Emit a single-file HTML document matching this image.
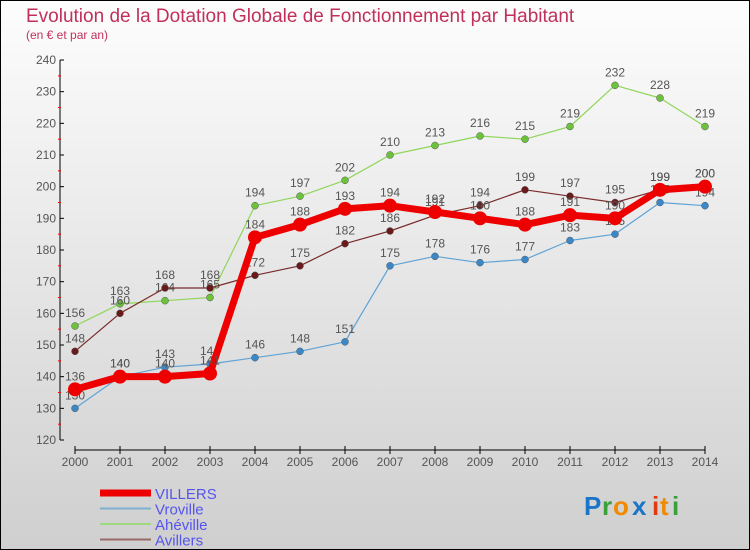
<!DOCTYPE html>
<html><head><meta charset="utf-8"><style>
body{margin:0;width:750px;height:550px;overflow:hidden;font-family:"Liberation Sans",sans-serif}
#wrap{position:absolute;left:0;top:0;width:748px;height:548px;border:1px solid #000;background:linear-gradient(#fdfdfd,#cfcfcf)}
</style></head><body>
<div id="wrap">
<svg id="chart" width="750" height="550" style="position:absolute;left:-1px;top:-1px">
<text x="26" y="22" font-size="19" fill="#c0305a">Evolution de la Dotation Globale de Fonctionnement par Habitant</text>
<text x="26" y="39" font-size="12" fill="#c0305a">(en € et par an)</text>
<g id="axes"></g><g id="series"></g><g id="legend"></g>
<g font-size="26" font-weight="bold" font-family="Liberation Sans,sans-serif">
<text x="584" y="515" fill="#1a74c8">P</text><text x="602" y="515" fill="#3aa03a">r</text><text x="613" y="515" fill="#f08a00">o</text><text x="632" y="515" fill="#1a74c8">x</text><text x="652" y="515" fill="#e03a10">i</text><text x="660" y="515" fill="#f08a00">t</text><text x="672" y="515" fill="#3aa03a">i</text>
</g>
</svg></div>
<script>
const years=[2000,2001,2002,2003,2004,2005,2006,2007,2008,2009,2010,2011,2012,2013,2014];
const villers=[136,140,140,141,184,188,193,194,192,190,188,191,190,199,200];
const vroville=[130,140,143,144,146,148,151,175,178,176,177,183,185,195,194];
const aheville=[156,163,164,165,194,197,202,210,213,216,215,219,232,228,219];
const avillers=[148,160,168,168,172,175,182,186,191,194,199,197,195,199,200];
const yTicks=[120,130,140,150,160,170,180,190,200,210,220,230,240];
const NS="http://www.w3.org/2000/svg";
const xs=i=>75+i*(705-75)/(years.length-1);
const ys=v=>440-(v-120)*(380/120);
function mk(t,a,p){const e=document.createElementNS(NS,t);for(const k in a)e.setAttribute(k,a[k]);p.appendChild(e);return e;}
const ax=document.getElementById('axes');
const yl=mk('line',{x1:60,y1:60,x2:60,y2:440,stroke:'#000'},ax);


yTicks.forEach(v=>{
  const t=mk('line',{x1:60,x2:64,y1:ys(v),y2:ys(v),stroke:'#000'},ax);
  
  
  if(v<240){const m=mk('line',{x1:58,x2:61,y1:ys(v+5),y2:ys(v+5),stroke:'#f00'},ax);
  
  }
  const l=mk('text',{x:56,y:ys(v)+4,'text-anchor':'end','font-size':12,fill:'#555'},ax);l.textContent=v;
  
  
});
const xl=mk('line',{x1:75,y1:450,x2:705,y2:450,stroke:'#000'},ax);


years.forEach((y,i)=>{
  const t=mk('line',{x1:xs(i),x2:xs(i),y1:446,y2:454,stroke:'#000'},ax);
  
  
  const l=mk('text',{x:xs(i),y:466,'text-anchor':'middle','font-size':12,fill:'#555'},ax);l.textContent=y;
  
  
});
const sg=document.getElementById('series');
const defs=[
 {n:'aheville',d:aheville,c:'#8fd65a',pc:'#6cc23a',w:1.2,r:3.5},
 {n:'vroville',d:vroville,c:'#5fa3d6',pc:'#3a88c8',w:1.2,r:3.5},
 {n:'avillers',d:avillers,c:'#7a2a2a',pc:'#6a1a1a',w:1.2,r:3.5},
 {n:'villers',d:villers,c:'#ee0000',pc:'#ee0000',w:7,r:6.5}];
defs.forEach(s=>{
  const g=mk('g',{},sg);
  
  
  const p=mk('polyline',{points:s.d.map((v,i)=>xs(i)+','+ys(v)).join(' '),fill:'none',stroke:s.c,'stroke-width':s.w,'stroke-linejoin':'round'},g);
  
  
  s.d.forEach((v,i)=>{
    const c=mk('circle',{cx:xs(i),cy:ys(v),r:s.r,fill:s.pc,stroke:s.n=='villers'?'#ee0000':'#555','stroke-width':s.n=='villers'?1:0.5},g);
    
    
    const t=mk('text',{x:xs(i),y:ys(v)-9,'text-anchor':'middle','font-size':12,fill:'#555'},g);t.textContent=v;
    
    
  });
});
const lg=document.getElementById('legend');
[['VILLERS','#ee0000',7],['Vroville','#7fb0d0',2],['Ahéville','#a0d880',2],['Avillers','#9a6a6a',2]].forEach((e,i)=>{
  const y=493+i*15.5;
  const l=mk('line',{x1:100,x2:151,y1:y,y2:y,stroke:e[1],'stroke-width':e[2]},lg);
  
  
  const t=mk('text',{x:155,y:y+6,'font-size':15,fill:'#5555ee'},lg);t.textContent=e[0];
  
  
});
</script>
</body></html>
